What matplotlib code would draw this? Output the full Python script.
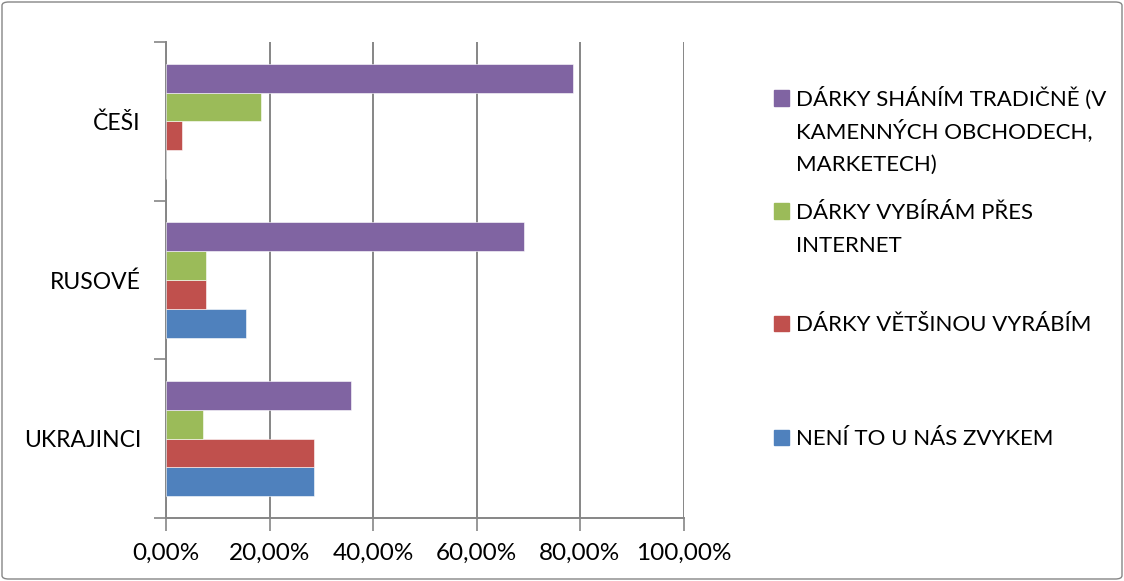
import matplotlib.pyplot as plt
import numpy as np
from matplotlib.patches import FancyBboxPatch, Rectangle

# Data
categories = ['UKRAJINCI', 'RUSOVÉ', 'ČEŠI']
series_names = [
    'NENÍ TO U NÁS ZVYKEM',
    'DÁRKY VĚTŠINOU VYRÁBÍM',
    'DÁRKY VYBÍRÁM PŘES\nINTERNET',
    'DÁRKY SHÁNÍM TRADIČNĚ (V\nKAMENNÝCH OBCHODECH,\nMARKETECH)',
]
not_custom = [0.286, 0.154, 0.0]
handmade = [0.286, 0.077, 0.030]
internet = [0.071, 0.077, 0.184]
traditional = [0.357, 0.692, 0.786]
x_ticks = [0, 0.2, 0.4, 0.6, 0.8, 1.0]

COLORS = ['#4F81BD', '#C0504D', '#9BBB59', '#8064A2']
GRID = '#868686'

plt.rcParams['font.family'] = ['Lato', 'DejaVu Sans']

fig = plt.figure(figsize=(11.24, 5.81), dpi=100)
ax = fig.add_axes([166 / 1124, 63 / 581, 517.5 / 1124, 476 / 581])

values = [not_custom, handmade, internet, traditional]
y = np.arange(len(categories))
h = 0.1815
for i, vals in enumerate(values):
    ax.barh(y + (i - 1.5) * h, vals, height=h, color=COLORS[i],
            edgecolor='white', linewidth=0.4, zorder=3)

ax.set_xlim(0, 1.0)
ax.set_ylim(-0.5, 2.5)
ax.set_xticks(x_ticks)
ax.set_xticklabels([f'{t * 100:.2f}%'.replace('.', ',') for t in x_ticks])
ax.set_yticks([-0.5, 0.5, 1.5, 2.5])
ax.set_yticklabels([])
ax.set_yticks(y, minor=True)
ax.set_yticklabels(categories, minor=True)
ax.tick_params(axis='y', which='major', length=9, color=GRID, width=1.2, direction='out')
ax.tick_params(axis='y', which='minor', length=0, pad=18, labelsize=16.5)
ax.tick_params(axis='x', length=9, color=GRID, width=1.2, pad=9, labelsize=17.5)

ax.grid(axis='x', color=GRID, linewidth=1.4, zorder=0)
for s in ['top', 'right']:
    ax.spines[s].set_visible(False)
for s in ['left', 'bottom']:
    ax.spines[s].set_color(GRID)
    ax.spines[s].set_linewidth(1.4)

# Legend drawn by hand to match the Excel layout
leg_y = [98, 211, 323, 437]
order = [3, 2, 1, 0]
for k, idx in enumerate(order):
    yc = 581 - leg_y[k]
    fig.patches.append(Rectangle((774 / 1124, (yc - 7.5) / 581), 15 / 1124, 15 / 581,
                                 transform=fig.transFigure, color=COLORS[idx]))
    for j, line in enumerate(series_names[idx].split('\n')):
        fig.text(796 / 1124, (yc - 8 - j * 32.5) / 581, line, fontsize=16,
                 va='baseline', ha='left')

# Outer chart border
fig.patches.append(FancyBboxPatch((2 / 1124, 2 / 581), 1120 / 1124, 577 / 581,
                                  boxstyle='round,pad=0,rounding_size=0.006',
                                  transform=fig.transFigure, fill=False,
                                  edgecolor=GRID, linewidth=1.0))

plt.savefig('out.png')
